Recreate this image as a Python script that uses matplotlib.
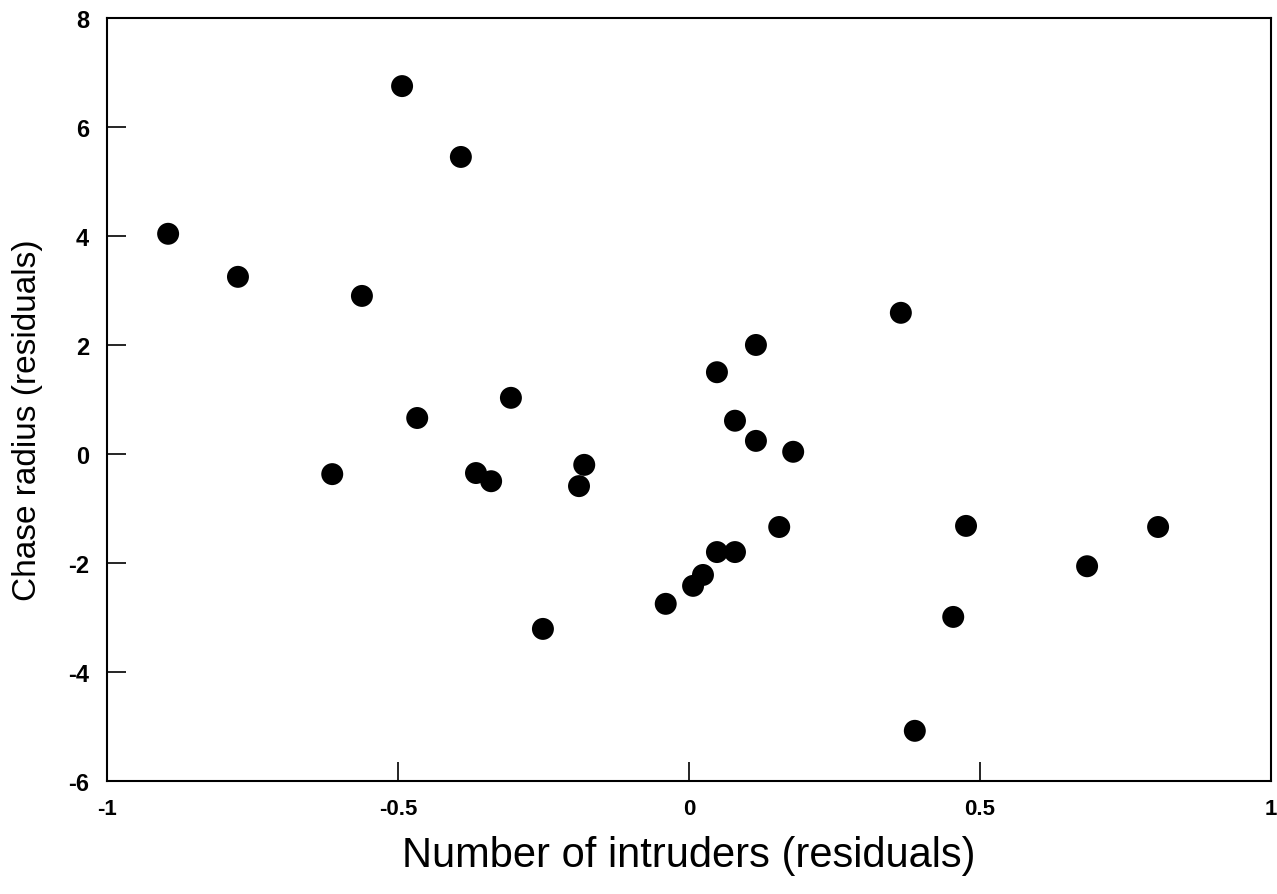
import numpy as np
import matplotlib.pyplot as plt

# residuals
intruders = [-0.895, -0.775, -0.493, -0.392, -0.562, -0.467, -0.613, -0.366,
             -0.340, -0.306, -0.180, -0.189, -0.251, -0.040, 0.007, 0.024,
             0.048, 0.079, 0.048, 0.079, 0.115, 0.115, 0.179, 0.155,
             0.364, 0.388, 0.454, 0.476, 0.684, 0.806]
chase = [4.04, 3.25, 6.75, 5.45, 2.90, 0.66, -0.37, -0.35,
         -0.50, 1.03, -0.20, -0.59, -3.21, -2.75, -2.42, -2.22,
         -1.80, -1.80, 1.50, 0.61, 2.00, 0.24, 0.04, -1.34,
         2.59, -5.08, -2.99, -1.32, -2.06, -1.34]

xticks = [-1, -0.5, 0, 0.5, 1]
xtick_labels = ['-1', '-0.5', '0', '0.5', '1']
yticks = [-6, -4, -2, 0, 2, 4, 6, 8]

plt.rcParams['font.family'] = ['Liberation Sans', 'DejaVu Sans']
plt.rcParams['axes.unicode_minus'] = False

fig = plt.figure(figsize=(12.77, 8.95), dpi=100)
ax = fig.add_axes([0.0838, 0.1263, 0.9115, 0.8525])

ax.scatter(intruders, chase, s=250, color='black', edgecolors='none', zorder=3)

ax.set_xlim(-1, 1)
ax.set_ylim(-6, 8)
ax.set_xticks(xticks)
ax.set_xticklabels(xtick_labels)
ax.set_yticks(yticks)

for sp in ax.spines.values():
    sp.set_linewidth(1.5)

ax.tick_params(axis='both', direction='in', length=14, width=1.2,
               top=False, right=False)
ax.tick_params(axis='x', pad=12, labelsize=16)
ax.tick_params(axis='y', pad=13, labelsize=17)
for lbl in ax.get_xticklabels() + ax.get_yticklabels():
    lbl.set_fontweight('bold')

ax.set_xlabel('Number of intruders (residuals)', fontsize=30, labelpad=12)
ax.set_ylabel('Chase radius (residuals)', fontsize=24)
ax.yaxis.set_label_coords(-0.055, 0.474)

fig.savefig('out.png', dpi=100)
